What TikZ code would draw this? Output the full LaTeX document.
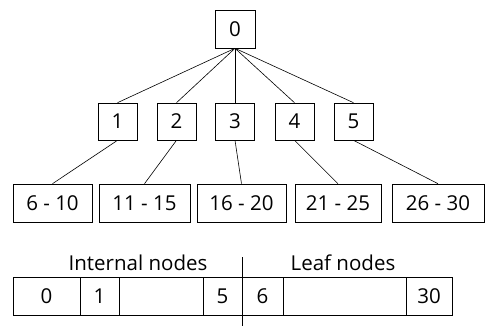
\documentclass[tikz,border=0pt]{standalone}
\usepackage{fontspec}
\setmainfont{Open Sans}
\usetikzlibrary{positioning}

\tikzset{
  cell/.style={draw, line width=0.6pt, inner sep=0pt, minimum height=38pt},
  link/.style={line width=0.6pt},
}

\begin{document}
\begin{tikzpicture}[x=1pt, y=-1pt, font=\fontsize{20.5}{22}\selectfont]
  \useasboundingbox (0,0) rectangle (485,327);

  % Root
  \node[cell, minimum width=40pt] (r) at (235,29) {0};

  % Internal nodes
  \foreach \i/\x in {1/117.5, 2/176.5, 3/235, 4/294.5, 5/353.5}
    \node[cell, minimum width=39pt, minimum height=37pt] (n\i) at (\x,121.5) {\i};

  % Leaf nodes
  \node[cell, minimum width=79pt] (l1) at (52.5,203) {6 - 10};
  \node[cell, minimum width=91pt] (l2) at (144.5,203) {11 - 15};
  \node[cell, minimum width=89pt] (l3) at (241.5,203) {16 - 20};
  \node[cell, minimum width=86pt] (l4) at (338,203) {21 - 25};
  \node[cell, minimum width=92pt] (l5) at (438,203) {26 - 30};

  \foreach \i in {1,...,5} {
    \draw[link] (r.south) -- (n\i.north);
    \draw[link] (n\i.south) -- (l\i.north);
  }

  % Array layout
  \node[cell, minimum width=67pt] (a0) at (46.5,296) {0};
  \node[cell, minimum width=39pt] (a1) at (99.5,296) {1};
  \node[cell, minimum width=84pt] (a2) at (161,296) {};
  \node[cell, minimum width=39pt] (a3) at (222.5,296) {5};
  \node[cell, minimum width=41pt] (a4) at (262.5,296) {6};
  \node[cell, minimum width=123pt] (a5) at (344.5,296) {};
  \node[cell, minimum width=46pt] (a6) at (429,296) {30};

  \node[anchor=base] (int) at (138,270) {Internal nodes};
  \node[anchor=base] (leaf) at (343,270) {Leaf nodes};

  % Split between the two parts
  \coordinate (splittop) at (242,257);
  \coordinate (splitbot) at (242,326);
  \draw[link] (splittop) -- (splitbot);
\end{tikzpicture}
\end{document}
